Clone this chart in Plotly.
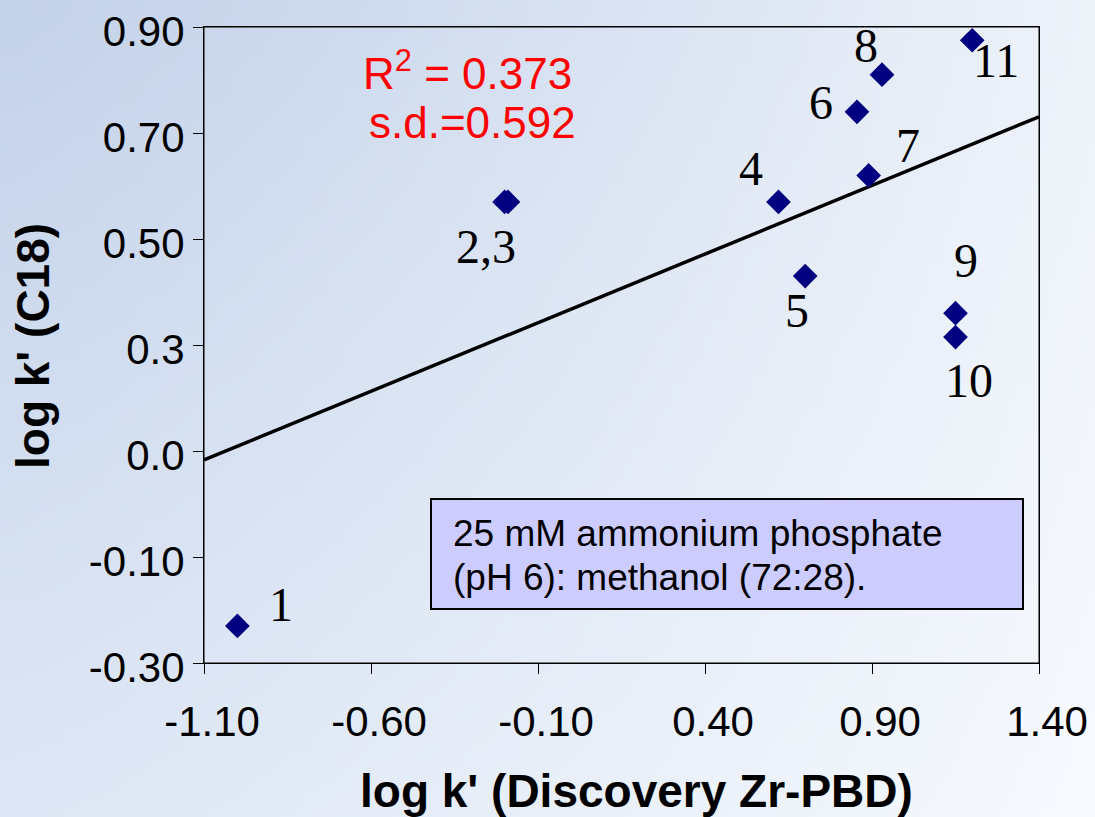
import base64
import struct
import zlib

import plotly.graph_objects as go

# ---- data -------------------------------------------------------------
# log k' on the Discovery Zr-PBD column vs log k' on C18, compounds 1-11
compound_ids = ["1", "2", "3", "4", "5", "6", "7", "8", "9", "10", "11"]
logk_zr_pbd = [-1.00, -0.20, -0.19, 0.62, 0.70, 0.855, 0.89, 0.93, 1.15, 1.15, 1.20]
logk_c18 = [-0.23, 0.57, 0.57, 0.57, 0.43, 0.74, 0.62, 0.81, 0.36, 0.315, 0.875]

# point labels and the compound each label sits next to
label_texts = ["1", "2,3", "4", "5", "6", "7", "8", "9", "10", "11"]
label_anchor = [0, 1, 3, 4, 5, 6, 7, 8, 9, 10]

# least-squares line and its statistics
fit_slope = 0.259
fit_intercept = 0.368
fit_r2 = "0.373"
fit_sd = "0.592"

# axis ticks
x_tickvals = [-1.10, -0.60, -0.10, 0.40, 0.90, 1.40]
x_ticktext = ["-1.10", "-0.60", "-0.10", "0.40", "0.90", "1.40"]
y_tickvals = [-0.30, -0.10, 0.10, 0.30, 0.50, 0.70, 0.90]
y_ticktext = ["-0.30", "-0.10", "0.0", "0.3", "0.50", "0.70", "0.90"]

condition_lines = ["25 mM ammonium phosphate", "(pH 6): methanol (72:28)."]

# ---- layout geometry (pixels) ----------------------------------------
W, H = 1095, 817
ML, MR, MT, MB = 204, 56, 27, 154
PW, PH = W - ML - MR, H - MT - MB


def px_x(px):
    return (px - ML) / PW


def px_y(py):
    return (H - MB - py) / PH


# label offsets in pixels (dx right, dy up) relative to their point
label_offsets = [(44, 21), (-19, -45), (-27, 33), (-8, -34), (-36, 9),
                 (39, 30), (-16, 29), (10, 53), (13, -43), (24, -20)]
condition_line_y = [533, 577]


# ---- soft blue page background as a small PNG -----------------------
def gradient_png(w, h):
    tl, tr = (196, 210, 233), (238, 243, 250)
    bl, br = (222, 231, 245), (247, 250, 254)
    raw = bytearray()
    for j in range(h):
        v = j / (h - 1)
        raw.append(0)
        for i in range(w):
            u = (i / (w - 1)) ** 1.2
            for c in range(3):
                top = tl[c] + (tr[c] - tl[c]) * u
                bot = bl[c] + (br[c] - bl[c]) * u
                raw.append(int(round(top + (bot - top) * v)))

    def chunk(tag, data):
        return (struct.pack(">I", len(data)) + tag + data
                + struct.pack(">I", zlib.crc32(tag + data) & 0xFFFFFFFF))

    png = (b"\x89PNG\r\n\x1a\n"
           + chunk(b"IHDR", struct.pack(">IIBBBBB", w, h, 8, 2, 0, 0, 0))
           + chunk(b"IDAT", zlib.compress(bytes(raw), 9))
           + chunk(b"IEND", b""))
    return "data:image/png;base64," + base64.b64encode(png).decode()


# ---- figure -----------------------------------------------------------
x_lo, x_hi = x_tickvals[0], x_tickvals[-1]
y_lo, y_hi = y_tickvals[0], y_tickvals[-1]

fig = go.Figure()

fig.add_trace(go.Scatter(
    x=[x_lo, x_hi],
    y=[fit_intercept + fit_slope * x_lo, fit_intercept + fit_slope * x_hi],
    mode="lines",
    line=dict(color="black", width=3.5),
    hoverinfo="skip",
    showlegend=False,
))

fig.add_trace(go.Scatter(
    x=logk_zr_pbd,
    y=logk_c18,
    text=compound_ids,
    mode="markers",
    marker=dict(symbol="diamond", size=19, color="#000080", line=dict(width=0)),
    showlegend=False,
))

annotations = []
serif = "Times New Roman, Liberation Serif, serif"
sans = "Arial, Liberation Sans, sans-serif"

for txt, idx, (dx, dy) in zip(label_texts, label_anchor, label_offsets):
    annotations.append(dict(
        x=logk_zr_pbd[idx], y=logk_c18[idx], xref="x", yref="y",
        text=txt, showarrow=False, xshift=dx, yshift=dy,
        xanchor="center", yanchor="middle",
        font=dict(family=serif, size=48, color="black"),
    ))

annotations += [
    dict(x=px_x(467), y=px_y(70), xref="paper", yref="paper",
         text="R<sup>2</sup> = " + fit_r2, showarrow=False,
         xanchor="center", yanchor="middle",
         font=dict(family=sans, size=44, color="#ff0000")),
    dict(x=px_x(472), y=px_y(122), xref="paper", yref="paper",
         text="s.d.=" + fit_sd, showarrow=False,
         xanchor="center", yanchor="middle",
         font=dict(family=sans, size=44, color="#ff0000")),
    dict(x=px_x(636), y=px_y(791), xref="paper", yref="paper",
         text="<b>log k' (Discovery Zr-PBD)</b>", showarrow=False,
         xanchor="center", yanchor="middle",
         font=dict(family=sans, size=46, color="black")),
    dict(x=px_x(33), y=px_y(346), xref="paper", yref="paper",
         text="<b>log k' (C18)</b>", showarrow=False, textangle=-90,
         xanchor="center", yanchor="middle",
         font=dict(family=sans, size=46, color="black")),
]

for line_text, ly in zip(condition_lines, condition_line_y):
    annotations.append(dict(
        x=px_x(451), y=px_y(ly), xref="paper", yref="paper",
        text=line_text, showarrow=False, align="left",
        xanchor="left", yanchor="middle",
        font=dict(family=sans, size=37, color="black"),
    ))

shapes = [
    # plot frame
    dict(type="rect", xref="paper", yref="paper", x0=0, x1=1, y0=0, y1=1,
         line=dict(color="black", width=1), fillcolor="rgba(0,0,0,0)",
         layer="below"),
    # conditions box
    dict(type="rect", xref="paper", yref="paper",
         x0=px_x(431), x1=px_x(1023), y0=px_y(609), y1=px_y(499),
         fillcolor="#ccccff", line=dict(color="black", width=2),
         layer="above"),
]

axis_common = dict(
    showline=True, linecolor="black", linewidth=1, mirror=True,
    ticks="outside", ticklen=10, tickwidth=1, tickcolor="black",
    showgrid=False, zeroline=False, automargin=False,
    tickfont=dict(family=sans, size=42, color="black"),
)

fig.update_layout(
    width=W, height=H,
    margin=dict(l=ML, r=MR, t=MT, b=MB, pad=0, autoexpand=False),
    paper_bgcolor="rgba(0,0,0,0)",
    plot_bgcolor="rgba(0,0,0,0)",
    showlegend=False,
    xaxis=dict(range=[x_lo, x_hi], tickmode="array",
               tickvals=x_tickvals, ticktext=x_ticktext,
               ticklabelshift=8, ticklabelstandoff=12, **axis_common),
    yaxis=dict(range=[y_lo, y_hi], tickmode="array",
               tickvals=y_tickvals, ticktext=y_ticktext,
               ticklabelshift=4, ticklabelstandoff=0, **axis_common),
    annotations=annotations,
    shapes=shapes,
    images=[dict(
        source=gradient_png(110, 82), xref="paper", yref="paper",
        x=-ML / PW, y=1 + MT / PH, sizex=W / PW, sizey=H / PH,
        xanchor="left", yanchor="top", sizing="stretch", layer="below",
    )],
)

fig.write_html("out.html")
